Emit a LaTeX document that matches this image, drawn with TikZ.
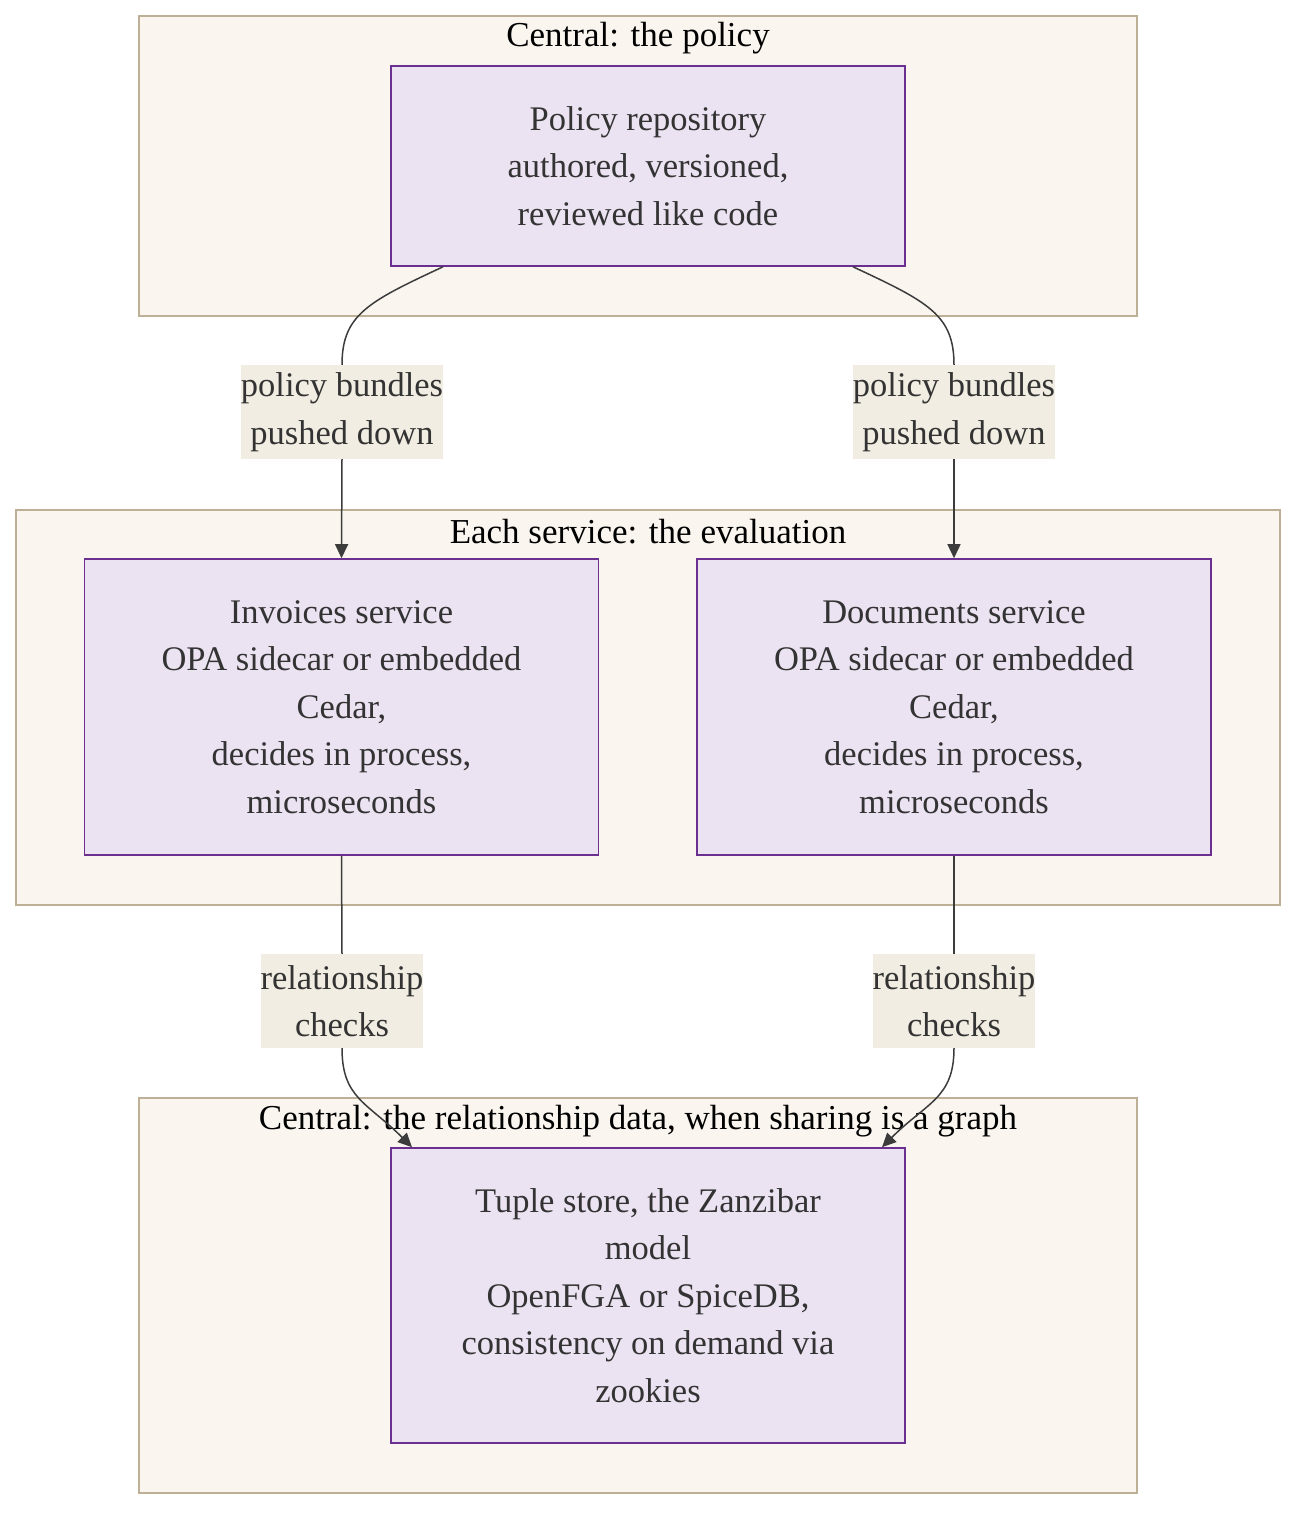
\documentclass[tikz,border=0pt]{standalone}
\usepackage{fontspec}
\setmainfont{Liberation Serif}
\usetikzlibrary{calc,positioning,backgrounds,arrows.meta}

\definecolor{clusterfill}{HTML}{FAF6EF}
\definecolor{clusterline}{HTML}{BDB096}
\definecolor{nodefill}{HTML}{ECE3F2}
\definecolor{nodeline}{HTML}{6B2F8F}
\definecolor{labelfill}{HTML}{F2EDE2}
\definecolor{textgray}{HTML}{333333}
\definecolor{linegray}{HTML}{3C3C3C}
\newcommand{\bodyfont}{\fontsize{34.5}{47.5}\selectfont}
\newcommand{\titlefont}{\fontsize{35}{47.5}\selectfont}

\begin{document}
\begin{tikzpicture}[
    x=1pt, y=-1pt,
    cluster/.style={rectangle, draw=clusterline, fill=clusterfill, line width=1.5pt},
    clustertitle/.style={font=\titlefont, text=black, inner sep=0pt},
    svcbox/.style={rectangle, draw=nodeline, fill=nodefill, line width=1.6pt, minimum width=514pt, align=center, text=textgray, font=\bodyfont},
    edgelabel/.style={rectangle, fill=labelfill, inner xsep=0pt, inner ysep=0pt, minimum height=94pt, align=center, text=textgray, font=\bodyfont},
    arrow/.style={-{Triangle[length=14pt, width=13pt]}, line width=1.5pt, linegray},
    link/.style={line width=1.5pt, linegray},
]
\useasboundingbox (0,0) rectangle (1312,1528);

% === CENTRAL: THE POLICY ===
\node[cluster, minimum width=998pt, minimum height=300pt] at (638,166) (policy-bg) {};
\node[clustertitle] at (638,38) (policy-title) {Central: the policy};
\node[svcbox, minimum height=200pt] at (648,166) (policy) {Policy repository\\authored, versioned,\\reviewed like code};

% === EACH SERVICE: THE EVALUATION ===
\node[cluster, minimum width=1264pt, minimum height=395pt] at (648,707.5) (service-bg) {};
\node[clustertitle] at (648,532) (service-title) {Each service: the evaluation};
\node[svcbox, minimum height=296pt] at (341.5,707) (invoices) {Invoices service\\OPA sidecar or embedded\\Cedar,\\decides in process,\\microseconds};
\node[svcbox, minimum height=296pt] at (954,707) (documents) {Documents service\\OPA sidecar or embedded\\Cedar,\\decides in process,\\microseconds};

% === CENTRAL: THE RELATIONSHIP DATA ===
\node[cluster, minimum width=998pt, minimum height=395pt] at (638,1295.5) (tuple-bg) {};
\node[clustertitle] at (638,1121) (tuple-title) {Central: the relationship data, when sharing is a graph};
\node[svcbox, minimum height=295pt] at (648,1295.5) (tuple) {Tuple store, the Zanzibar\\model\\OpenFGA or SpiceDB,\\consistency on demand via\\zookies};

% === EDGE LABELS ===
\node[edgelabel] at (342,412) (push-left) {policy bundles\\pushed down};
\node[edgelabel] at (954,412) (push-right) {policy bundles\\pushed down};
\node[edgelabel] at (342,1001) (check-left) {relationship\\checks};
\node[edgelabel] at (954,1001) (check-right) {relationship\\checks};

% === ARROWS ===
% Policy to services
\draw[link] ([xshift=-205pt]policy.south) .. controls +(-75,35) and +(0,-50) .. (push-left.north);
\draw[arrow] (push-left.south) -- (invoices.north);
\draw[link] ([xshift=205pt]policy.south) .. controls +(75,35) and +(0,-50) .. (push-right.north);
\draw[arrow] (push-right.south) -- (documents.north);

% Services to tuple store
\draw[link] (invoices.south) -- (check-left.north);
\draw[arrow] (check-left.south) .. controls +(0,50) and +(-45,-45) .. ([xshift=-236pt]tuple.north);
\draw[link] (documents.south) -- (check-right.north);
\draw[arrow] (check-right.south) .. controls +(0,50) and +(45,-45) .. ([xshift=234pt]tuple.north);

\end{tikzpicture}
\end{document}
